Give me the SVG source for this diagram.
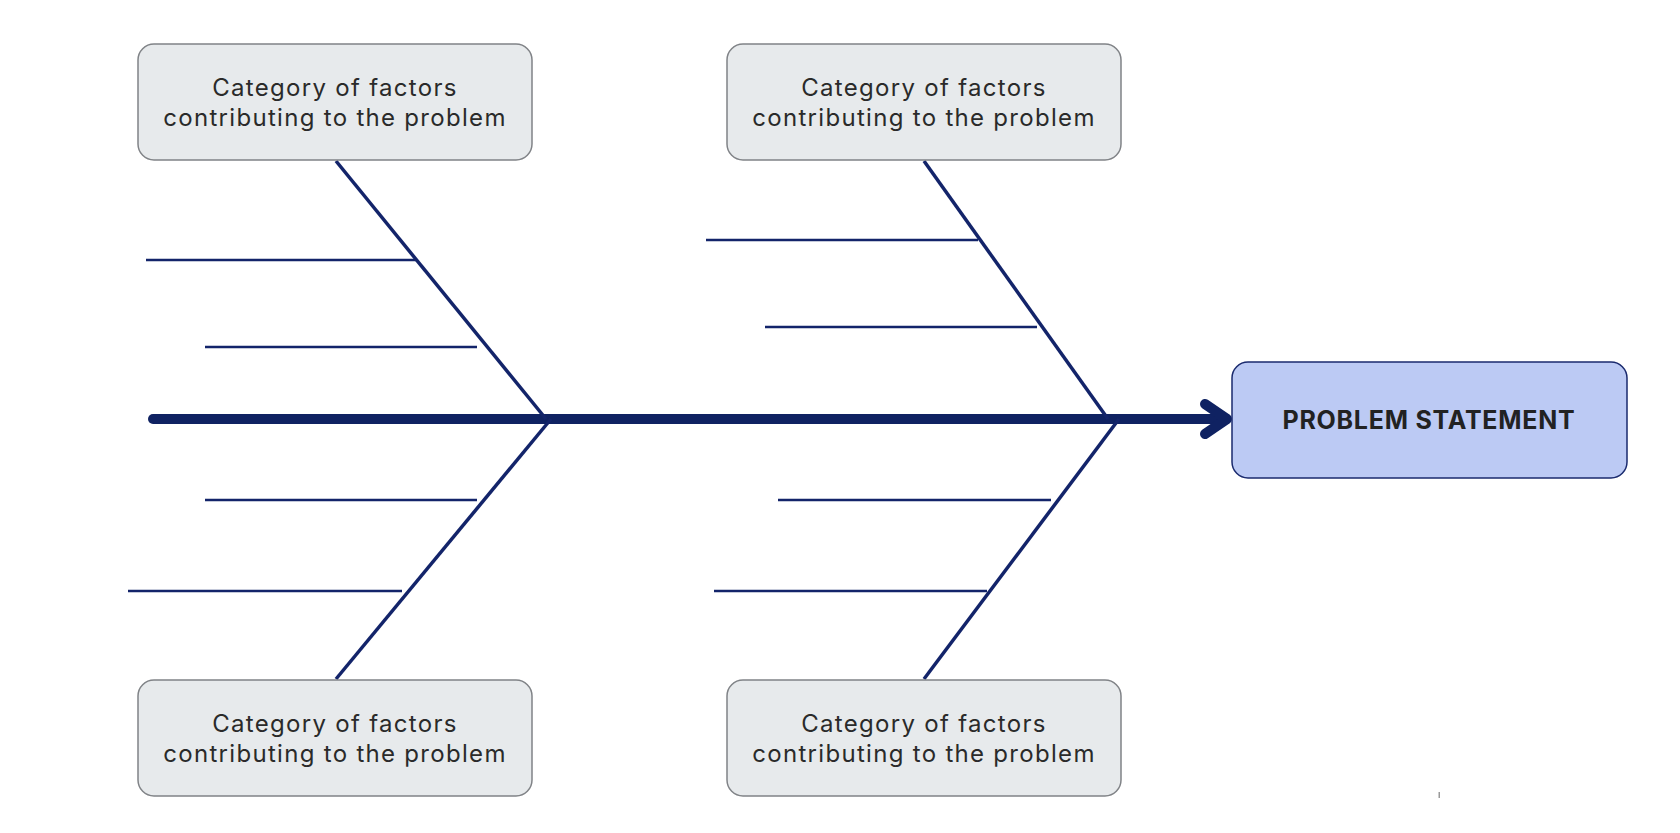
<svg xmlns="http://www.w3.org/2000/svg" width="1680" height="833" viewBox="0 0 1680 833">
<style>
.cat rect{fill:#E7EAEC;stroke:#808387;stroke-width:1.5}
.cat text{font-family:Inter,"Noto Sans","Liberation Sans",sans-serif;font-size:24px;letter-spacing:1.3px;fill:#2a2a2a;text-anchor:middle}
.bone{stroke:#13246A;stroke-width:3.5;fill:none}
.rib{stroke:#13246A;stroke-width:2.6;fill:none}
</style>
<rect width="1680" height="833" fill="#ffffff"/>
<g id="connectors">
<line x1="153" y1="419" x2="1222" y2="419" stroke="#0F2262" stroke-width="10" stroke-linecap="round"/>
<polyline points="1205,404 1227,419 1205,434" fill="none" stroke="#0F2262" stroke-width="10" stroke-linecap="round" stroke-linejoin="round"/>
<line class="bone" x1="336" y1="161" x2="546" y2="419"/>
<line class="bone" x1="551" y1="419" x2="336" y2="679"/>
<line class="bone" x1="924" y1="161" x2="1108" y2="419"/>
<line class="bone" x1="1119" y1="419" x2="924" y2="679"/>
<line class="rib" x1="146" y1="260" x2="416" y2="260"/>
<line class="rib" x1="205" y1="347" x2="477" y2="347"/>
<line class="rib" x1="205" y1="500" x2="477" y2="500"/>
<line class="rib" x1="128" y1="591" x2="402" y2="591"/>
<line class="rib" x1="706" y1="240" x2="978" y2="240"/>
<line class="rib" x1="765" y1="327" x2="1037" y2="327"/>
<line class="rib" x1="778" y1="500" x2="1051" y2="500"/>
<line class="rib" x1="714" y1="591" x2="987" y2="591"/>
</g>
<g id="cat-top-left" class="cat">
<rect x="138" y="44" width="394" height="116" rx="16"/>
<text x="335" y="96">Category of factors<tspan x="335" dy="30">contributing to the problem</tspan></text>
</g>
<g id="cat-top-right" class="cat">
<rect x="727" y="44" width="394" height="116" rx="16"/>
<text x="924" y="96">Category of factors<tspan x="924" dy="30">contributing to the problem</tspan></text>
</g>
<g id="cat-bottom-left" class="cat">
<rect x="138" y="680" width="394" height="116" rx="16"/>
<text x="335" y="732">Category of factors<tspan x="335" dy="30">contributing to the problem</tspan></text>
</g>
<g id="cat-bottom-right" class="cat">
<rect x="727" y="680" width="394" height="116" rx="16"/>
<text x="924" y="732">Category of factors<tspan x="924" dy="30">contributing to the problem</tspan></text>
</g>
<g id="problem">
<rect x="1232" y="362" width="395" height="116" rx="16" fill="#BCCAF4" stroke="#1A2A6E" stroke-width="1.5"/>
<text x="1429" y="429" font-family="Inter, Noto Sans, Liberation Sans, sans-serif" font-weight="bold" font-size="25" letter-spacing="0.75" fill="#222222" text-anchor="middle">PROBLEM STATEMENT</text>
</g>
<rect x="1438.5" y="792" width="1.5" height="6" fill="#9a9a9a"/>
</svg>
